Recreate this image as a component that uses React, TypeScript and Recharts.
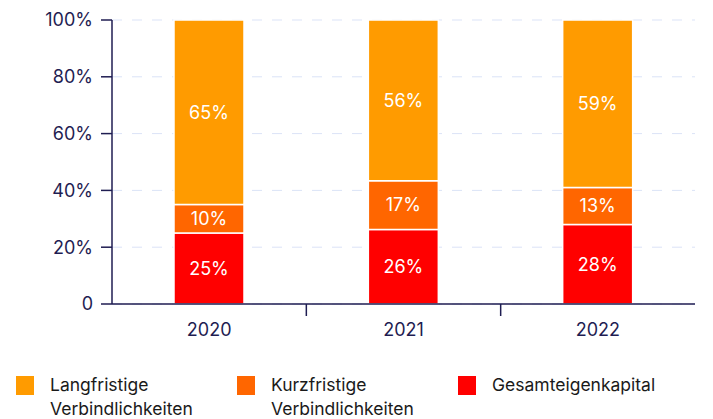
import { Bar, BarChart, CartesianGrid, LabelList, XAxis, YAxis } from "recharts";

const years = ["2020", "2021", "2022"];
const equity = [25, 26, 28];
const shortTerm = [10, 17, 13];
const longTerm = [65, 56, 59];
const yTicks = [0, 0.2, 0.4, 0.6, 0.8, 1];

const data = years.map((year, i) => ({
  year,
  equity: equity[i],
  shortTerm: shortTerm[i],
  longTerm: longTerm[i],
}));

const series = [
  { key: "longTerm", name: "Langfristige Verbindlichkeiten", color: "#ff9b00" },
  { key: "shortTerm", name: "Kurzfristige Verbindlichkeiten", color: "#ff6600" },
  { key: "equity", name: "Gesamteigenkapital", color: "#ff0000" },
];

const INK = "#1f1d52";
const FONT = "Inter, 'Noto Sans', sans-serif";
const W = 713;
const H = 355;
const M = { top: 20, right: 18, bottom: 11, left: 0 };
const Y_W = 112;
const X_H = 40;
const X_TICK = 12;
const X_MARGIN = 8;
const band = (W - M.left - M.right - Y_W) / years.length;

function XTick(props: any) {
  const { x, y, payload, index } = props;
  const axisY = y - X_TICK - X_MARGIN;
  return (
    <g>
      {index < years.length - 1 && (
        <line x1={x + band / 2} x2={x + band / 2} y1={axisY} y2={axisY + X_TICK} stroke={INK} strokeWidth={1.5} />
      )}
      <text x={x} y={y} dy={12} textAnchor="middle" fill={INK} fontSize={18} fontFamily={FONT}>
        {payload.value}
      </text>
    </g>
  );
}

export default function App() {
  return (
    <div style={{ position: "absolute", left: 0, top: 0, width: W, height: 419, background: "#fff", fontFamily: FONT }}>
      <BarChart width={W} height={H} data={data} stackOffset="expand" margin={M}>
        <CartesianGrid vertical={false} stroke="#dbe3f7" strokeDasharray="10 10" />
        <XAxis
          dataKey="year"
          height={X_H}
          axisLine={{ stroke: INK, strokeWidth: 1.5 }}
          tickLine={false}
          tickSize={X_TICK}
          tickMargin={X_MARGIN}
          tick={<XTick />}
          interval={0}
        />
        <YAxis
          width={Y_W}
          ticks={yTicks}
          domain={[0, 1]}
          tickFormatter={(v: number) => (v === 0 ? "0" : `${Math.round(v * 100)}%`)}
          axisLine={{ stroke: INK, strokeWidth: 1.5 }}
          tickLine={{ stroke: INK, strokeWidth: 1.5 }}
          tickSize={11}
          tickMargin={8}
          tick={{ fill: INK, fontSize: 18, fontFamily: FONT }}
        />
        {[...series].reverse().map((s) => (
          <Bar
            key={s.key}
            dataKey={s.key}
            stackId="a"
            fill={s.color}
            stroke="#fff"
            strokeWidth={1.5}
            barSize={70}
            isAnimationActive={false}
          >
            <LabelList
              dataKey={s.key}
              position="center"
              formatter={(v: any) => `${v}%`}
              fill="#fff"
              fontSize={18}
              fontFamily={FONT}
            />
          </Bar>
        ))}
      </BarChart>
      <div style={{ position: "absolute", top: 373, left: 16, display: "flex", fontSize: 17.5, lineHeight: "24px", color: "#1a1a1a" }}>
        {series.map((s, i) => (
          <div key={s.key} style={{ display: "flex", width: i < 2 ? 221 : 240 }}>
            <div style={{ width: 18, height: 19, background: s.color, marginTop: 3, marginRight: 16, flexShrink: 0 }} />
            <div style={{ width: 180 }}>{s.name}</div>
          </div>
        ))}
      </div>
    </div>
  );
}
